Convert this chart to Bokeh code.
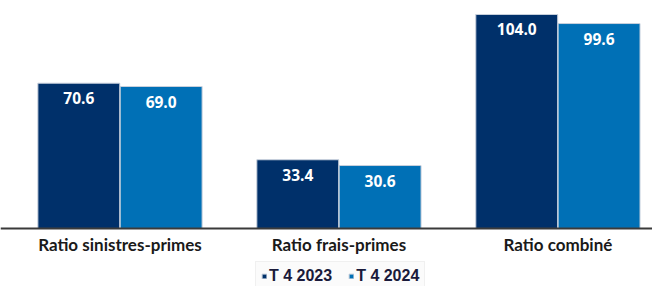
from bokeh.plotting import figure
from bokeh.models import ColumnDataSource, Range1d, Legend, LegendItem, FixedTicker
from bokeh.transform import dodge
from bokeh.core.properties import value
from bokeh.embed import file_html
from bokeh.resources import INLINE

categories = ["Ratio sinistres-primes", "Ratio frais-primes", "Ratio combiné"]
series_names = ["T 4 2023", "T 4 2024"]
t4_2023 = [70.6, 33.4, 104.0]
t4_2024 = [69.0, 30.6, 99.6]

pos = list(range(len(categories)))
src = ColumnDataSource(dict(
    x=pos, a=t4_2023, b=t4_2024,
    la=[f"{v:.1f}" for v in t4_2023],
    lb=[f"{v:.1f}" for v in t4_2024],
))

NAVY = "#00306A"
BLUE = "#0070B6"

p = figure(frame_width=652, frame_height=300, output_backend="svg", toolbar_location=None,
           x_range=Range1d(-0.5457, 2.432), y_range=Range1d(-35.0, 110.8),
           min_border_left=0, min_border_right=0, min_border_top=0, min_border_bottom=0)
p.outline_line_color = None
p.grid.visible = False
p.yaxis.visible = False

r1 = p.vbar(x=dodge("x", -0.188, range=p.x_range), top="a", width=0.374, source=src,
            fill_color=NAVY, line_color="#c8d0dc", line_width=1)
r2 = p.vbar(x=dodge("x", 0.188, range=p.x_range), top="b", width=0.374, source=src,
            fill_color=BLUE, line_color="#c8d0dc", line_width=1)

for col, lab, off in (("a", "la", -0.188), ("b", "lb", 0.188)):
    p.text(x=dodge("x", off, range=p.x_range), y=col, text=lab, source=src,
           text_color="white", text_font=value("Open Sans"), text_font_style="bold",
           text_font_size="15.5px", text_align="center", text_baseline="middle",
           y_offset=15)

ax = p.xaxis[0]
ax.fixed_location = 0
ax.ticker = FixedTicker(ticks=pos)
ax.major_label_overrides = {i: c for i, c in enumerate(categories)}
ax.major_tick_line_color = None
ax.minor_tick_line_color = None
ax.axis_line_color = "#3a3a3a"
ax.axis_line_width = 2
ax.major_label_text_font = "Lato"
ax.major_label_text_font_style = "bold"
ax.major_label_text_font_size = "17px"
ax.major_label_text_color = "#1a1a1a"
ax.major_label_standoff = 0

legend = Legend(items=[LegendItem(label=series_names[0], renderers=[r1]),
                       LegendItem(label=series_names[1], renderers=[r2])],
                orientation="horizontal", location=(255, 9),
                label_text_font="Liberation Sans", label_text_font_style="bold",
                label_text_font_size="16px", label_text_color="#1a1a3a",
                glyph_width=6, glyph_height=6, label_standoff=2, spacing=16,
                padding=5, margin=0, border_line_color="#e6e6e6",
                background_fill_color="#fbfbfb", label_height=14)
p.add_layout(legend)

open("out.html", "w").write(file_html(p, INLINE))
